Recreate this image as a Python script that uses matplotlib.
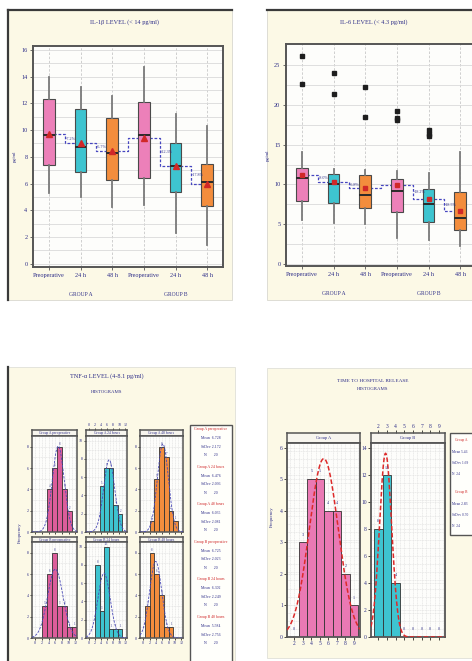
import numpy as np
import matplotlib
matplotlib.use("Agg")
import matplotlib.pyplot as plt
from matplotlib.patches import Rectangle
from matplotlib.lines import Line2D

W, H = 472, 661
plt.rcParams["font.family"] = ["Liberation Serif", "DejaVu Serif"]

NAVY = "#2d2d88"
RED = "#d02828"
CREAM = "#fcf9e6"
PINK = "#ec80b9"
CYAN = "#3ec4d0"
ORANGE = "#f38d3d"
HPINK = "#dc5d9a"

# ---------------- box plot data (pg/ml) ----------------
positions = [1, 2, 3, 4, 5, 6]
box_labels = ["Preoperative", "24 h", "48 h", "Preoperative", "24 h", "48 h"]
groups = ["GROUP A", "GROUP B"]

il1_lo = [5.3, 5.0, 4.25, 4.4, 2.3, 1.4]
il1_q1 = [7.4, 6.85, 6.25, 6.4, 5.4, 4.3]
il1_med = [9.65, 8.75, 8.3, 9.6, 7.3, 6.1]
il1_q3 = [12.3, 11.6, 10.9, 12.1, 9.0, 7.5]
il1_hi = [13.95, 13.25, 12.55, 14.7, 11.2, 10.3]
il1_mean = [9.7, 9.0, 8.4, 9.4, 7.3, 6.0]
il1_fliers = [[], [], [], [], [], []]

il6_lo = [5.5, 5.1, 5.0, 3.25, 3.0, 2.2]
il6_q1 = [7.9, 7.6, 7.05, 6.5, 5.3, 4.3]
il6_med = [10.8, 10.0, 8.65, 9.1, 7.5, 5.7]
il6_q3 = [12.1, 11.35, 11.2, 10.7, 9.4, 9.0]
il6_hi = [14.1, 11.9, 11.8, 11.7, 11.4, 14.1]
il6_mean = [11.2, 10.3, 9.6, 9.9, 8.1, 6.6]
il6_fliers = [[26.2, 22.6], [24.0, 21.4], [22.3, 18.5],
              [19.2, 18.35, 18.1], [16.9, 16.4, 16.1], []]

# ---------------- TNF-alpha histograms ----------------
tnf_titles = ["Group A preoperative", "Group A 24 hours", "Group A 48 hours",
              "Group B preoperative", "Group B 24 hours", "Group B 48 hours"]
tnf_left = [[3.5, 5, 6.5, 8, 9.5],
            [3.5, 5, 6.5, 8, 9.5],
            [2, 3.5, 5, 6.5, 8, 9.5],
            [2, 3.5, 5, 6.5, 8, 9.5, 11],
            [2, 3.5, 5, 6.5, 8, 9.5],
            [0.5, 2, 3.5, 5, 6.5, 8]]
tnf_counts = [[4, 6, 8, 4, 2],
              [5, 7, 7, 3, 2],
              [1, 5, 8, 7, 2, 1],
              [3, 6, 8, 3, 3, 1, 1],
              [8, 3, 10, 1, 1, 1],
              [3, 8, 6, 4, 1, 1]]
tnf_mean_txt = ["6.728", "6.476", "6.035", "6.725", "6.302", "5.584"]
tnf_sd_txt = ["2.172", "2.096", "2.081", "2.023", "2.249", "2.756"]
tnf_n = [20, 20, 20, 20, 20, 20]

# ---------------- time to hospital release ----------------
days = [2, 3, 4, 5, 6, 7, 8, 9]
rel_a = [0, 3, 5, 5, 4, 4, 2, 1]
rel_b = [8, 12, 4, 0, 0, 0, 0, 0]

fig = plt.figure(figsize=(W / 100, H / 100), dpi=100)


def rect_px(x0, y0, x1, y1):
    return [x0 / W, 1 - y1 / H, (x1 - x0) / W, (y1 - y0) / H]


def fig_rect(x0, y0, x1, y1, fc, ec="none", lw=0.6, z=-5):
    fig.add_artist(Rectangle((x0 / W, 1 - y1 / H), (x1 - x0) / W, (y1 - y0) / H,
                             transform=fig.transFigure, facecolor=fc,
                             edgecolor=ec, lw=lw, zorder=z))


def dark_line(xs, ys):
    fig.add_artist(Line2D([x / W for x in xs], [1 - y / H for y in ys],
                          transform=fig.transFigure, color="#3a3a3a", lw=1.6))


def ftext(x, y, s, **kw):
    fig.text(x / W, 1 - y / H, s, **kw)


def style_spines(ax, lw=1.3):
    for s in ax.spines.values():
        s.set_color("#555555")
        s.set_linewidth(lw)


# panel backgrounds
fig_rect(8, 10, 232, 300, CREAM, "#d8d8d0")
fig_rect(267, 10, 480, 300, CREAM, "#d8d8d0")
fig_rect(8, 367, 235, 665, CREAM, "#e0e0d8")
fig_rect(267, 368, 480, 658, CREAM, "#e0e0d8")
dark_line([8, 232], [10, 10])
dark_line([8, 8], [10, 300])
dark_line([267, 480], [10, 10])
dark_line([8, 8], [367, 661])


def box_panel(rect, lo, q1, med, q3, hi, mean, fliers, ylim, major, minor,
              marker, msize):
    ax = fig.add_axes(rect_px(*rect))
    ax.set_facecolor("#fdfdfb")
    stats = [dict(whislo=lo[i], q1=q1[i], med=med[i], q3=q3[i], whishi=hi[i],
                  mean=mean[i], fliers=fliers[i]) for i in range(6)]
    bp = ax.bxp(stats, positions=positions, widths=0.36, patch_artist=True,
                showcaps=False, showmeans=True,
                boxprops=dict(edgecolor="#4a4a4a", lw=0.8),
                medianprops=dict(color="#2a2a2a", lw=1.4),
                whiskerprops=dict(color="#7a7a7a", lw=1.3),
                meanprops=dict(marker=marker, markerfacecolor=RED,
                               markeredgecolor=RED, markersize=msize),
                flierprops=dict(marker="s", markerfacecolor="#1e1e1e",
                                markeredgecolor="#1e1e1e", markersize=2.6))
    for patch, c in zip(bp["boxes"], [PINK, CYAN, ORANGE] * 2):
        patch.set_facecolor(c)
    # dashed step line joining the means
    ax.plot(positions, mean, drawstyle="steps-mid", color="#4646c0", lw=0.9,
            ls=(0, (2.2, 1.4)), zorder=1.5)
    for i in [0, 1, 3, 4]:
        pct = (mean[i + 1] - mean[i]) / mean[i] * 100
        ax.text(positions[i] + 0.53, (mean[i] + mean[i + 1]) / 2, f"{pct:.1f}%",
                fontsize=3, color=NAVY, ha="left", va="center", zorder=4)
    ax.set_xlim(0.5, 6.5)
    ax.set_ylim(*ylim)
    ax.set_yticks(major)
    ax.set_yticks(minor, minor=True)
    ax.grid(axis="y", which="both", color="#dadada", lw=0.6)
    ax.grid(axis="x", color="#c8c8c8", lw=0.6, ls=(0, (3, 2)))
    ax.set_axisbelow(True)
    ax.set_xticks(positions)
    ax.set_xticklabels(box_labels)
    ax.tick_params(labelsize=4.5, labelcolor=NAVY, length=2, width=0.6,
                   color="#555555", pad=2)
    ax.tick_params(which="minor", length=0)
    style_spines(ax, 1.4)
    ax.set_ylabel("pg/ml", fontsize=3.5, color=NAVY, labelpad=3)
    for k, g in enumerate(groups):
        ax.annotate(g, xy=(positions[1 + 3 * k], -0.125),
                    xycoords=("data", "axes fraction"), ha="center",
                    va="center", fontsize=4, color=NAVY)
    return ax


box_panel((33, 46, 223, 267), il1_lo, il1_q1, il1_med, il1_q3, il1_hi,
          il1_mean, il1_fliers, (-0.25, 16.3), range(0, 17, 2), range(1, 17, 2),
          "^", 4)
ftext(124, 22, "IL-1\u03b2 LEVEL (< 14 pg/ml)", fontsize=4.5, color=NAVY,
      ha="center", va="center")

box_panel((286, 44, 476, 266), il6_lo, il6_q1, il6_med, il6_q3, il6_hi,
          il6_mean, il6_fliers, (-0.3, 27.7), range(0, 26, 5),
          np.arange(2.5, 27.5, 5), "s", 3)
ftext(374, 22, "IL-6 LEVEL (< 4.3 pg/ml)", fontsize=4.5, color=NAVY,
      ha="center", va="center")


def normal_curve(ax, centers, counts, width, xlim, color, lw):
    c = np.array(centers, dtype=float)
    n = np.array(counts, dtype=float)
    tot = n.sum()
    mu = (c * n).sum() / tot
    sd = np.sqrt((n * (c - mu) ** 2).sum() / (tot - 1))
    xs = np.linspace(xlim[0], xlim[1], 200)
    ys = tot * width / (sd * np.sqrt(2 * np.pi)) * np.exp(-0.5 * ((xs - mu) / sd) ** 2)
    ax.plot(xs, ys, color=color, lw=lw, ls=(0, (3, 1.5)), zorder=3)


def strip(x0, y0, x1, y1, title, xlim, fs):
    sa = fig.add_axes(rect_px(x0, y0, x1, y1))
    sa.set_facecolor("#f7f5ee")
    sa.set_xlim(*xlim)
    sa.set_yticks([])
    sa.set_xticks([])
    style_spines(sa, 1.1)
    sa.text(0.5, 0.5, title, transform=sa.transAxes, ha="center", va="center",
            fontsize=fs, color=NAVY)
    return sa


# ---------------- TNF-alpha panel ----------------
ftext(107, 376, "TNF-\u03b1 LEVEL (4-8.1 pg/ml)", fontsize=4.5, color=NAVY,
      ha="center", va="center")
ftext(107, 392, "HISTOGRAMS", fontsize=3.5, color=NAVY, ha="center", va="center")
ftext(20, 533, "Frequency", fontsize=3.5, color=NAVY, ha="center", va="center",
      rotation=90)

cols = [(32, 77), (86, 127), (140, 183)]
rows = [(430, 436, 532), (537, 542, 638)]
tnf_colors = [HPINK, CYAN, ORANGE]
tnf_ylims = [(0, 9), (0, 10.5), (0, 9)]
tnf_xlim = (-1, 12.5)
for k in range(6):
    r, c = divmod(k, 3)
    x0, x1 = cols[c]
    s0, p0, p1 = rows[r]
    sa = strip(x0, s0, x1, p0, tnf_titles[k], tnf_xlim, 2.6)
    if k == 1:
        sa.xaxis.tick_top()
        sa.set_xticks(range(0, 13, 2))
        sa.tick_params(labelsize=3, labelcolor=NAVY, length=1.5, width=0.5, pad=1)
    ax = fig.add_axes(rect_px(x0, p0, x1, p1))
    ax.set_facecolor("#fdfdfb")
    ax.bar(tnf_left[k], tnf_counts[k], width=1.5, align="edge",
           color=tnf_colors[c], edgecolor="#333333", lw=0.6, zorder=2)
    centers = [v + 0.75 for v in tnf_left[k]]
    normal_curve(ax, centers, tnf_counts[k], 1.5, tnf_xlim, "#4a4ab8", 0.6)
    for xv, cv in zip(centers, tnf_counts[k]):
        ax.text(xv, cv + 0.1, str(cv), fontsize=2.2, color=NAVY, ha="center",
                va="bottom", zorder=4)
    ax.set_xlim(*tnf_xlim)
    ax.set_ylim(*tnf_ylims[c])
    ax.set_xticks(range(0, 13, 2))
    ax.set_xticks(range(-1, 13, 1), minor=True)
    ax.set_yticks(range(0, int(tnf_ylims[c][1]) + 1, 2))
    ax.set_yticks(np.arange(1, tnf_ylims[c][1], 2), minor=True)
    ax.grid(which="both", color="#dedede", lw=0.4, ls=(0, (2, 1)))
    ax.set_axisbelow(True)
    ax.tick_params(labelsize=3, labelcolor=NAVY, length=1.5, width=0.5, pad=1)
    ax.tick_params(which="minor", length=0)
    if r == 0:
        ax.set_xticklabels([])
    style_spines(ax, 1.1)

# stats box
fig_rect(190, 425, 232, 700, "#fffffb", "#555555", 1.0, z=1)
for k in range(6):
    y = 429 + 37.6 * k
    ftext(211, y, tnf_titles[k], fontsize=2.8, color=RED, ha="center", va="center")
    ftext(211, y + 9, f"Mean  {tnf_mean_txt[k]}", fontsize=2.8, color=NAVY,
          ha="center", va="center")
    ftext(211, y + 17.5, f"StDev {tnf_sd_txt[k]}", fontsize=2.8, color=NAVY,
          ha="center", va="center")
    ftext(211, y + 26, f"N       {tnf_n[k]}", fontsize=2.8, color=NAVY,
          ha="center", va="center")

# ---------------- time to hospital release ----------------
ftext(373, 381, "TIME TO HOSPITAL RELEASE", fontsize=3.8, color=NAVY,
      ha="center", va="center")
ftext(373, 389, "HISTOGRAMS", fontsize=3.5, color=NAVY, ha="center", va="center")
ftext(272, 517, "Frequency", fontsize=3.5, color=NAVY, ha="center", va="center",
      rotation=90)

rel_xlim = (1.15, 9.7)
rel_sets = [("Group A", rel_a, HPINK, (287, 360), (0, 6.15), range(0, 7)),
            ("Group B", rel_b, CYAN, (371, 445), (0, 14.4), range(0, 15, 2))]
stat_lines = []
for k, (name, cnt, colr, (x0, x1), ylim, yt) in enumerate(rel_sets):
    sa = strip(x0, 433, x1, 443, name, rel_xlim, 3.2)
    if k == 1:
        sa.xaxis.tick_top()
        sa.set_xticks(days)
        sa.tick_params(labelsize=4, labelcolor=NAVY, length=2, width=0.5, pad=1)
    ax = fig.add_axes(rect_px(x0, 443, x1, 637))
    ax.set_facecolor("#fdfdfb")
    ax.bar(days, cnt, width=1.0, color="#ea79b4" if k == 0 else colr,
           edgecolor="#333333", lw=0.6, zorder=2)
    normal_curve(ax, days, cnt, 1.0, rel_xlim, "#dd2a2a", 1.1)
    for xv, cv in zip(days, cnt):
        ax.text(xv, cv + 0.03 * ylim[1], str(cv), fontsize=3, color=NAVY,
                ha="center", va="bottom", zorder=4)
    ax.set_xlim(*rel_xlim)
    ax.set_ylim(*ylim)
    ax.set_xticks(days)
    ax.set_xticks(np.arange(1.5, 9.6, 0.5), minor=True)
    ax.set_yticks(list(yt))
    ax.set_yticks(np.arange(0, ylim[1], ylim[1] / 24), minor=True)
    ax.grid(which="both", color="#dedede", lw=0.4, ls=(0, (2, 1)))
    ax.set_axisbelow(True)
    ax.tick_params(labelsize=4, labelcolor=NAVY, length=2, width=0.5, pad=1)
    ax.tick_params(which="minor", length=0)
    if k == 1:
        ax.set_xticklabels([])
    style_spines(ax, 1.3)
    d = np.repeat(days, cnt)
    stat_lines.append((name, d.mean(), d.std(ddof=1), len(d)))

# stats box (runs off the right edge, text kept inside the picture)
fig_rect(450, 433, 490, 535, "#fffffb", "#555555", 1.0, z=1)
for k, (name, mu, sd, n) in enumerate(stat_lines):
    y = 440 + 52 * k
    ftext(455, y, name, fontsize=2.6, color=RED, ha="left", va="center")
    ftext(452, y + 12, f"Mean {mu:.2f}", fontsize=2.6, color=NAVY, ha="left", va="center")
    ftext(452, y + 23, f"StDev {sd:.2f}", fontsize=2.6, color=NAVY, ha="left", va="center")
    ftext(452, y + 34, f"N  {n}", fontsize=2.6, color=NAVY, ha="left", va="center")

fig.savefig("out.png", dpi=100)
